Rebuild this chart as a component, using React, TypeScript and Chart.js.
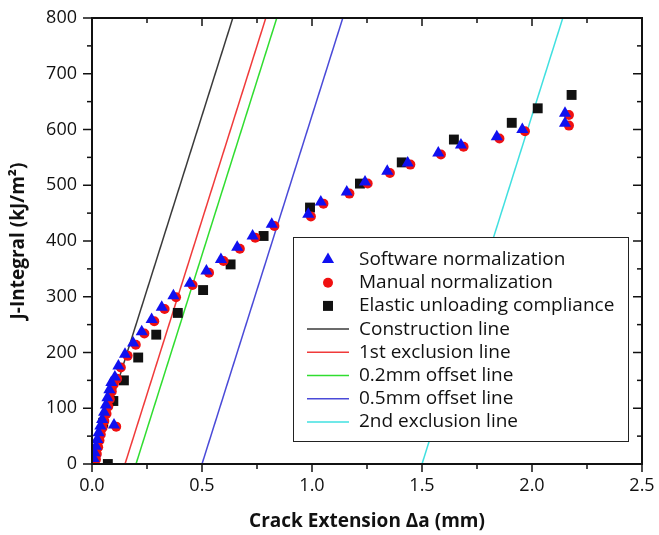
import React, { useEffect, useRef } from "react";
import { Chart, registerables } from "chart.js";

Chart.register(...registerables);

// Software normalization (triangles)
const SW_X = [0.008, 0.012, 0.018, 0.024, 0.030, 0.038, 0.046, 0.055, 0.063, 0.070, 0.079, 0.088, 0.104, 0.120, 0.150, 0.187, 0.226, 0.271, 0.317, 0.370, 0.445, 0.520, 0.586, 0.660, 0.730, 0.817, 0.983, 1.040, 1.158, 1.241, 1.342, 1.435, 1.574, 1.677, 1.840, 1.956, 2.150, 2.150, 0.100];
const SW_J = [10, 20, 32, 44, 56, 68, 80, 93, 106, 119, 133, 146, 156, 176, 197, 217, 237, 259, 281, 302, 324, 346, 367, 389, 409, 430, 448, 470, 488, 506, 525, 540, 558, 572, 587, 600, 611, 629, 70];

// Manual normalization (circles)
const MN_X = [0.018, 0.022, 0.028, 0.034, 0.040, 0.048, 0.056, 0.066, 0.074, 0.081, 0.090, 0.099, 0.114, 0.131, 0.162, 0.199, 0.238, 0.283, 0.330, 0.382, 0.457, 0.532, 0.598, 0.672, 0.742, 0.829, 0.995, 1.052, 1.170, 1.253, 1.354, 1.447, 1.586, 1.689, 1.852, 1.968, 2.168, 2.168, 0.110];
const MN_J = [8, 18, 30, 42, 53, 65, 77, 90, 103, 116, 130, 143, 153, 173, 194, 214, 234, 256, 278, 299, 321, 343, 364, 386, 406, 427, 444, 467, 485, 503, 522, 537, 555, 569, 584, 597, 607, 626, 67];

// Elastic unloading compliance (squares)
const EU_X = [0.072, 0.051, 0.097, 0.145, 0.210, 0.292, 0.390, 0.505, 0.630, 0.780, 0.991, 1.218, 1.408, 1.645, 1.908, 2.026, 2.180];
const EU_J = [0, 74, 113, 150, 191, 232, 271, 312, 358, 409, 460, 503, 541, 582, 612, 638, 662];

// Straight lines: [x at J=0, x at J=800]
const CONSTRUCTION_X = [0.0, 0.64];
const EXCL1_X = [0.15, 0.79];
const OFF02_X = [0.2, 0.84];
const OFF05_X = [0.5, 1.14];
const EXCL2_X = [1.5, 2.14];
const LINE_J = [0, 800];

const X_TICK_LABELS = ["0.0", "0.5", "1.0", "1.5", "2.0", "2.5"];
const Y_TICK_LABELS = ["0", "100", "200", "300", "400", "500", "600", "700", "800"];

const LEGEND_LABELS = [
  "Software normalization",
  "Manual normalization",
  "Elastic unloading compliance",
  "Construction line",
  "1st exclusion line",
  "0.2mm offset line",
  "0.5mm offset line",
  "2nd exclusion line",
];

const FONT = "'Open Sans', 'Noto Sans', sans-serif";

const toPts = (xs: number[], ys: number[]) => xs.map((x, i) => ({ x, y: ys[i] }));

export default function App() {
  const ref = useRef<HTMLCanvasElement | null>(null);

  useEffect(() => {
    if (!ref.current) return;

    const lineDs = (label: string, xs: number[], color: string) => ({
      label,
      data: toPts(xs, LINE_J),
      showLine: true,
      borderColor: color,
      backgroundColor: color,
      borderWidth: 1.5,
      pointRadius: 0,
      clip: 0,
    });

    const framePlugin = {
      id: "frameLegend",
      afterDatasetsDraw(chart: any) {
        const { ctx, chartArea: a, scales } = chart;
        const xs = scales.x;
        const ys = scales.y;
        ctx.save();
        ctx.strokeStyle = "#111";
        ctx.lineWidth = 1.5;
        const seg = (x1: number, y1: number, x2: number, y2: number) => {
          ctx.beginPath();
          ctx.moveTo(x1, y1);
          ctx.lineTo(x2, y2);
          ctx.stroke();
        };
        xs.ticks.forEach((t: any, i: number) => {
          const px = xs.getPixelForValue(t.value);
          const len = i % 2 === 0 ? 8 : 5;
          seg(px, a.bottom, px, a.bottom + len);
          seg(px, a.top, px, a.top + len);
        });
        ys.ticks.forEach((t: any, i: number) => {
          const py = ys.getPixelForValue(t.value);
          const len = i % 2 === 0 ? 9 : 5;
          seg(a.left - len, py, a.left, py);
          seg(a.right - len, py, a.right, py);
        });
        ctx.lineWidth = 2;
        ctx.strokeRect(a.left, a.top, a.right - a.left, a.bottom - a.top);

        // legend
        const bx = a.left + 201;
        const by = a.top + 219;
        const bw = 335;
        const bh = 204;
        ctx.fillStyle = "#fff";
        ctx.fillRect(bx, by, bw, bh);
        ctx.lineWidth = 1;
        ctx.strokeStyle = "#222";
        ctx.strokeRect(bx + 0.5, by + 0.5, bw, bh);

        const rowH = 23.2;
        const symX = bx + 35;
        const textX = bx + 66;
        ctx.font = `19px ${FONT}`;
        ctx.textBaseline = "middle";
        ctx.textAlign = "left";
        const dsets = chart.data.datasets;
        LEGEND_LABELS.forEach((lab, i) => {
          const cy = by + 22.5 + i * rowH;
          const ds = dsets[i];
          if (i < 3) {
            ctx.fillStyle = ds.backgroundColor;
            ctx.beginPath();
            if (i === 0) {
              const r = 7;
              ctx.moveTo(symX, cy - r);
              ctx.lineTo(symX + r * 0.866, cy + r * 0.5);
              ctx.lineTo(symX - r * 0.866, cy + r * 0.5);
              ctx.closePath();
            } else if (i === 1) {
              ctx.arc(symX, cy, 5, 0, Math.PI * 2);
            } else {
              ctx.rect(symX - 5, cy - 5, 10, 10);
            }
            ctx.fill();
          } else {
            ctx.strokeStyle = ds.borderColor;
            ctx.lineWidth = 1.5;
            seg(symX - 21, cy, symX + 21, cy);
          }
          ctx.fillStyle = "#111";
          ctx.fillText(lab, textX, cy);
        });
        ctx.restore();
      },
    };

    const chart = new Chart(ref.current, {
      type: "scatter",
      data: {
        datasets: [
          {
            label: LEGEND_LABELS[0],
            data: toPts(SW_X, SW_J),
            pointStyle: "triangle",
            pointRadius: 7,
            backgroundColor: "#1010f0",
            borderColor: "#1010f0",
            borderWidth: 0,
          },
          {
            label: LEGEND_LABELS[1],
            data: toPts(MN_X, MN_J),
            pointStyle: "circle",
            pointRadius: 5,
            backgroundColor: "#f01010",
            borderColor: "#f01010",
            borderWidth: 0,
          },
          {
            label: LEGEND_LABELS[2],
            data: toPts(EU_X, EU_J),
            pointStyle: "rect",
            pointRadius: 7,
            backgroundColor: "#111111",
            borderColor: "#111111",
            borderWidth: 0,
            clip: 0,
          },
          lineDs(LEGEND_LABELS[3], CONSTRUCTION_X, "#3a3a3a"),
          lineDs(LEGEND_LABELS[4], EXCL1_X, "#f03a3a"),
          lineDs(LEGEND_LABELS[5], OFF02_X, "#30dd30"),
          lineDs(LEGEND_LABELS[6], OFF05_X, "#4a4ad8"),
          lineDs(LEGEND_LABELS[7], EXCL2_X, "#40e0e0"),
        ] as any,
      },
      options: {
        animation: false,
        responsive: false,
        layout: { padding: { top: 18, right: 17, left: 0, bottom: 0 } },
        plugins: { legend: { display: false }, tooltip: { enabled: false } },
        scales: {
          x: {
            type: "linear",
            min: 0,
            max: 2.5,
            grid: { display: false, drawTicks: false },
            border: { display: false },
            ticks: {
              stepSize: 0.25,
              autoSkip: false,
              maxRotation: 0,
              padding: 11,
              color: "#111",
              font: { family: FONT, size: 18 },
              callback: (_v: any, i: number) => (i % 2 === 0 ? X_TICK_LABELS[i / 2] : ""),
            },
            title: {
              display: true,
              text: "Crack Extension Δa (mm)",
              color: "#111",
              font: { family: FONT, size: 19, weight: "bold" },
              padding: { top: 0, bottom: 2 },
            },
            afterFit: (s: any) => {
              s.height = 71;
              s.paddingLeft = 0;
              s.paddingRight = 0;
            },
          },
          y: {
            type: "linear",
            min: 0,
            max: 800,
            grid: { display: false, drawTicks: false },
            border: { display: false },
            ticks: {
              stepSize: 50,
              autoSkip: false,
              padding: 15,
              color: "#111",
              font: { family: FONT, size: 18 },
              callback: (_v: any, i: number) => (i % 2 === 0 ? Y_TICK_LABELS[i / 2] : ""),
            },
            title: {
              display: true,
              text: "J-Integral (kJ/m²)",
              color: "#111",
              font: { family: FONT, size: 19, weight: "bold" },
              padding: { top: 7, bottom: 0 },
            },
            afterFit: (s: any) => {
              s.width = 92;
              s.paddingTop = 0;
              s.paddingBottom = 0;
            },
          },
        },
      } as any,
      plugins: [framePlugin],
    });

    return () => chart.destroy();
  }, []);

  return (
    <div style={{ position: "absolute", left: 0, top: 0, width: 659, height: 535, background: "#fff" }}>
      <canvas ref={ref} width={659} height={535} />
    </div>
  );
}
